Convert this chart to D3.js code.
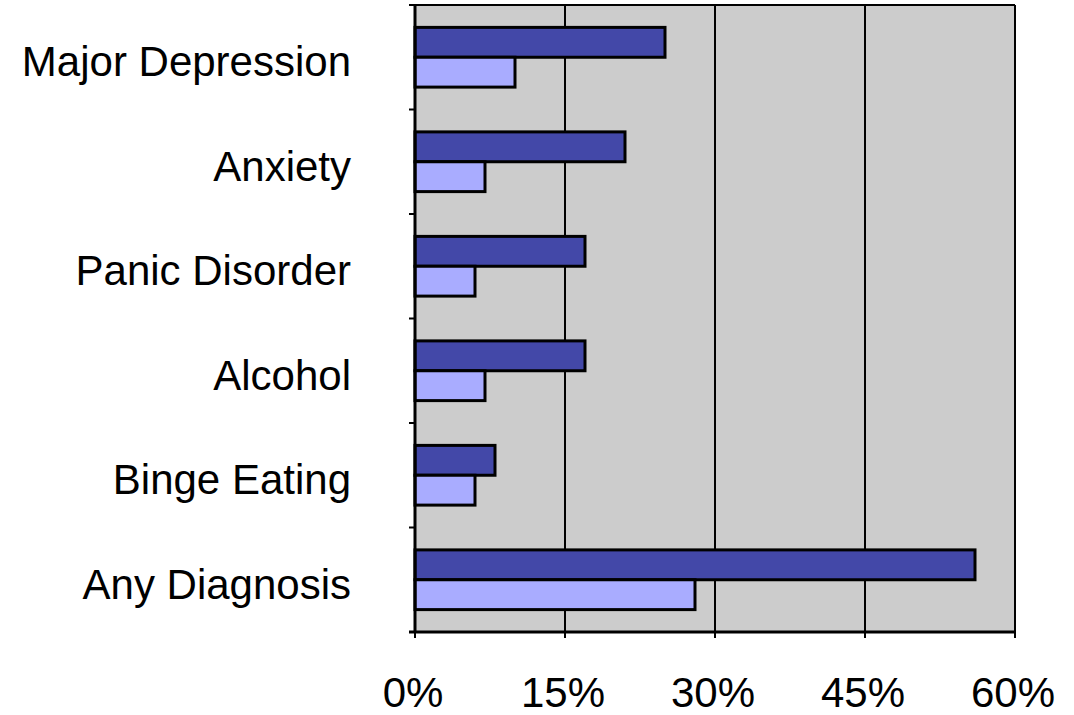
<!DOCTYPE html>
<html>
<head>
<meta charset="utf-8">
<script src="https://cdn.jsdelivr.net/npm/d3@7"></script>
<style>
  body { margin: 0; background: #fff; }
  text { font-family: "Liberation Sans", Arial, sans-serif; fill: #000; }
</style>
</head>
<body>
<div id="chart"></div>
<script>
// categories top to bottom
const categories = ["Major Depression", "Anxiety", "Panic Disorder", "Alcohol", "Binge Eating", "Any Diagnosis"];
const series = ["dark", "light"];
const darkValues = [25, 21, 17, 17, 8, 56];
const lightValues = [10, 7, 6, 7, 6, 28];
const xTicks = [0, 15, 30, 45, 60];

const colors = { dark: "#4348A8", light: "#A9ACFF" };

const width = 1074, height = 715;
const plot = { left: 415, right: 1015, top: 5, bottom: 632 };

const svg = d3.select("#chart")
    .append("svg")
    .attr("width", width)
    .attr("height", height);

const x = d3.scaleLinear()
    .domain([0, 60])
    .range([plot.left, plot.right]);

const y = d3.scaleBand()
    .domain(categories)
    .range([plot.top, plot.bottom])
    .padding(0);

const inner = d3.scaleBand()
    .domain(series)
    .range([0, y.bandwidth()])
    .paddingInner(0)
    .paddingOuter(0.75);

// plot background
svg.append("rect")
    .attr("x", plot.left)
    .attr("y", plot.top)
    .attr("width", plot.right - plot.left)
    .attr("height", plot.bottom - plot.top)
    .attr("fill", "#CCCCCC");

// vertical gridlines
svg.append("g")
    .selectAll("line")
    .data(xTicks.slice(1))
    .enter()
    .append("line")
    .attr("x1", d => x(d))
    .attr("x2", d => x(d))
    .attr("y1", plot.top)
    .attr("y2", plot.bottom)
    .attr("stroke", "#000")
    .attr("stroke-width", 2);

// top border
svg.append("line")
    .attr("x1", plot.left).attr("x2", plot.right)
    .attr("y1", plot.top).attr("y2", plot.top)
    .attr("stroke", "#000").attr("stroke-width", 2);

const rows = categories.map((c, i) => ({ cat: c, dark: darkValues[i], light: lightValues[i] }));

// bars
const group = svg.append("g")
    .selectAll("g")
    .data(rows)
    .enter()
    .append("g")
    .attr("transform", d => `translate(0, ${y(d.cat)})`);

group.selectAll("rect")
    .data(d => series.map(s => ({ s: s, v: d[s] })))
    .enter()
    .append("rect")
    .attr("x", x(0))
    .attr("y", d => inner(d.s))
    .attr("width", d => x(d.v) - x(0))
    .attr("height", inner.bandwidth())
    .attr("fill", d => colors[d.s])
    .attr("stroke", "#000")
    .attr("stroke-width", 3);

// y axis
const yAxis = svg.append("g")
    .attr("transform", `translate(${plot.left}, 0)`);
yAxis.append("line")
    .attr("x1", 0).attr("x2", 0)
    .attr("y1", plot.top).attr("y2", plot.bottom)
    .attr("stroke", "#000").attr("stroke-width", 3);
const yTickPos = categories.map(c => y(c)).concat([plot.bottom]);
yAxis.selectAll(".ytick")
    .data(yTickPos)
    .enter()
    .append("line")
    .attr("x1", -6).attr("x2", 0)
    .attr("y1", d => d).attr("y2", d => d)
    .attr("stroke", "#000").attr("stroke-width", 2);

svg.append("g")
    .selectAll("text")
    .data(categories)
    .enter()
    .append("text")
    .attr("x", 351)
    .attr("y", d => y(d) + y.bandwidth() / 2 + 19)
    .attr("text-anchor", "end")
    .style("font-size", "42px")
    .text(d => d);

// x axis
const xAxis = svg.append("g");
xAxis.append("line")
    .attr("x1", plot.left - 6).attr("x2", plot.right)
    .attr("y1", plot.bottom).attr("y2", plot.bottom)
    .attr("stroke", "#000").attr("stroke-width", 3);
xAxis.selectAll(".xtick")
    .data(xTicks)
    .enter()
    .append("line")
    .attr("x1", d => x(d)).attr("x2", d => x(d))
    .attr("y1", plot.bottom).attr("y2", plot.bottom + 6)
    .attr("stroke", "#000").attr("stroke-width", 2);
xAxis.selectAll("text")
    .data(xTicks)
    .enter()
    .append("text")
    .attr("x", d => x(d) - 2)
    .attr("y", 707)
    .attr("text-anchor", "middle")
    .style("font-size", "42px")
    .text(d => d + "%");
</script>
</body>
</html>
